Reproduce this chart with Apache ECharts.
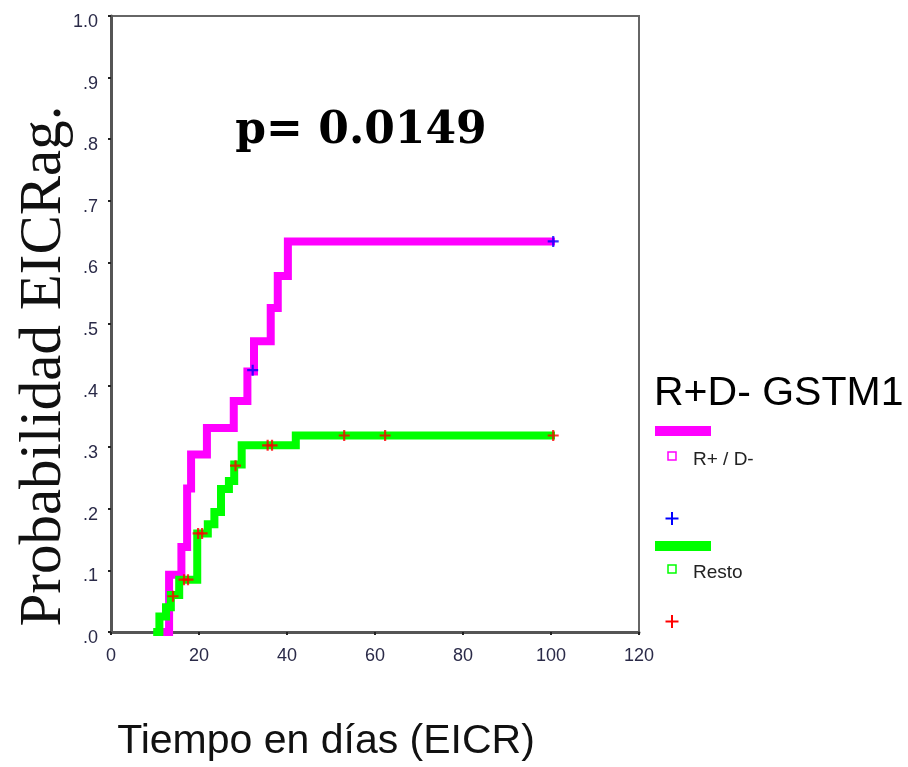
<!DOCTYPE html>
<html>
<head>
<meta charset="utf-8">
<script src="https://cdn.jsdelivr.net/npm/echarts@6/dist/echarts.min.js"></script>
<style>
html,body{margin:0;padding:0;background:#fff;}
#chart{width:908px;height:767px;}
</style>
</head>
<body>
<div id="chart"></div>
<script>
// ---- data ----
const xTicks = [0, 20, 40, 60, 80, 100, 120];
const yTickLabels = ['.0', '.1', '.2', '.3', '.4', '.5', '.6', '.7', '.8', '.9', '1.0'];

// R+ / D- (magenta) Kaplan-Meier step curve
const rdTimes = [12.5, 13.2, 16.0, 17.3, 18.2, 21.8, 27.9, 31.0, 32.5, 36.3, 37.9, 40.2, 100];
const rdProb  = [0, 0.093, 0.138, 0.233, 0.288, 0.331, 0.375, 0.423, 0.472, 0.526, 0.578, 0.634, 0.634];
// R+ / D- censored (blue +)
const rdCensT = [32.2, 100.5];
const rdCensP = [0.425, 0.634];

// Resto (green) step curve
const restoTimes = [10.5, 11.0, 12.5, 13.6, 15.5, 19.6, 22.0, 23.5, 25.0, 26.8, 28.0, 29.7, 42.0, 100];
const restoProb  = [0, 0.025, 0.04, 0.06, 0.085, 0.16, 0.175, 0.195, 0.232, 0.245, 0.272, 0.303, 0.319, 0.319];
// Resto censored (red +)
const restoCensT = [14.1, 16.6, 17.5, 19.8, 20.7, 28.3, 35.6, 36.6, 53.0, 62.3, 100.5];
const restoCensP = [0.058, 0.085, 0.085, 0.16, 0.16, 0.270, 0.303, 0.303, 0.319, 0.319, 0.319];

const titleP = 'p= 0.0149';
const legendTitle = 'R+D- GSTM1';
const groupNames = ['R+ / D-', 'Resto'];
const xName = 'Tiempo en días (EICR)';
const yName = 'Probabilidad EICRag.';

// ---- build ----
const zip = (a, b) => a.map((v, i) => [v, b[i]]);
const plusPath = 'path://M3.2,0H4.8V3.2H8V4.8H4.8V8H3.2V4.8H0V3.2H3.2Z';

const chart = echarts.init(document.getElementById('chart'), null, {renderer: 'canvas'});
const option = {
  backgroundColor: '#fff',
  animation: false,
  grid: {left: 111, top: 16, right: 269, bottom: 135, containLabel: false, outerBoundsMode: 'none',
    show: true, borderColor: '#666', borderWidth: 2, backgroundColor: 'transparent'},
  xAxis: {
    type: 'value', min: 0, max: 120, interval: 20,
    axisLine: {show: true, onZero: false, lineStyle: {color: '#555', width: 3}},
    axisTick: {show: true, length: 3, lineStyle: {color: '#222', width: 2}},
    splitLine: {show: false},
    axisLabel: {color: '#2a2a48', fontSize: 18, fontFamily: 'Liberation Sans, Arial', margin: 15,
      formatter: v => xTicks.indexOf(v) >= 0 ? String(v) : ''}
  },
  yAxis: {
    type: 'value', min: 0, max: 1, interval: 0.1,
    axisLine: {show: true, onZero: false, lineStyle: {color: '#555', width: 3}},
    axisTick: {show: true, length: 3, lineStyle: {color: '#222', width: 2}},
    splitLine: {show: false},
    axisLabel: {color: '#2a2a48', fontSize: 18, fontFamily: 'Liberation Sans, Arial', margin: 13,
      verticalAlign: 'top', lineHeight: 12,
      formatter: v => yTickLabels[Math.round(v * 10)]}
  },
  series: [
    {name: groupNames[0], type: 'line', step: 'end', data: zip(rdTimes, rdProb), symbol: 'none',
      lineStyle: {color: '#ff00ff', width: 8, cap: 'square', join: 'miter'}, z: 2},
    {name: groupNames[1], type: 'line', step: 'end', data: zip(restoTimes, restoProb), symbol: 'none',
      lineStyle: {color: '#00ff00', width: 8, cap: 'square', join: 'miter'}, z: 3},
    {name: groupNames[0] + ' censurado', type: 'scatter', data: zip(rdCensT, rdCensP), symbol: plusPath,
      symbolSize: 11, itemStyle: {color: '#0000ff'}, z: 5},
    {name: groupNames[1] + ' censurado', type: 'scatter', data: zip(restoCensT, restoCensP), symbol: plusPath,
      symbolSize: 11, itemStyle: {color: '#ff0000'}, z: 5}
  ],
  graphic: [
    {type: 'text', x: 361, y: 132, style: {text: titleP, font: 'bold 44px "DejaVu Serif"', fill: '#000', align: 'center', verticalAlign: 'middle'}},
    {type: 'text', x: 326, y: 742, style: {text: xName, font: '41px "Liberation Sans", Arial', fill: '#111', align: 'center', verticalAlign: 'middle'}},
    {type: 'text', x: 44, y: 366, rotation: Math.PI / 2, style: {text: yName, font: '59px "Liberation Serif", "Times New Roman"', fill: '#111', align: 'center', verticalAlign: 'middle'}},
    {type: 'text', x: 654, y: 394, style: {text: legendTitle, font: '41px "Liberation Sans", Arial', fill: '#000', verticalAlign: 'middle'}},
    {type: 'rect', shape: {x: 655, y: 426, width: 56, height: 10}, style: {fill: '#ff00ff'}},
    {type: 'rect', shape: {x: 668, y: 452, width: 8, height: 8}, style: {fill: '#fff', stroke: '#ff00ff', lineWidth: 1.5}},
    {type: 'text', x: 693, y: 460, style: {text: groupNames[0], font: '19px "Liberation Sans", Arial', fill: '#222', verticalAlign: 'middle'}},
    {type: 'line', shape: {x1: 672, y1: 512, x2: 672, y2: 525}, style: {stroke: '#0000ff', lineWidth: 2}},
    {type: 'line', shape: {x1: 665.5, y1: 518.5, x2: 678.5, y2: 518.5}, style: {stroke: '#0000ff', lineWidth: 2}},
    {type: 'rect', shape: {x: 655, y: 541, width: 56, height: 10}, style: {fill: '#00ff00'}},
    {type: 'rect', shape: {x: 668, y: 565, width: 8, height: 8}, style: {fill: '#fff', stroke: '#00ff00', lineWidth: 1.5}},
    {type: 'text', x: 693, y: 573, style: {text: groupNames[1], font: '19px "Liberation Sans", Arial', fill: '#222', verticalAlign: 'middle'}},
    {type: 'line', shape: {x1: 672, y1: 615, x2: 672, y2: 628}, style: {stroke: '#ff0000', lineWidth: 2}},
    {type: 'line', shape: {x1: 665.5, y1: 621.5, x2: 678.5, y2: 621.5}, style: {stroke: '#ff0000', lineWidth: 2}}
  ]
};
chart.setOption(option);
</script>
</body>
</html>
